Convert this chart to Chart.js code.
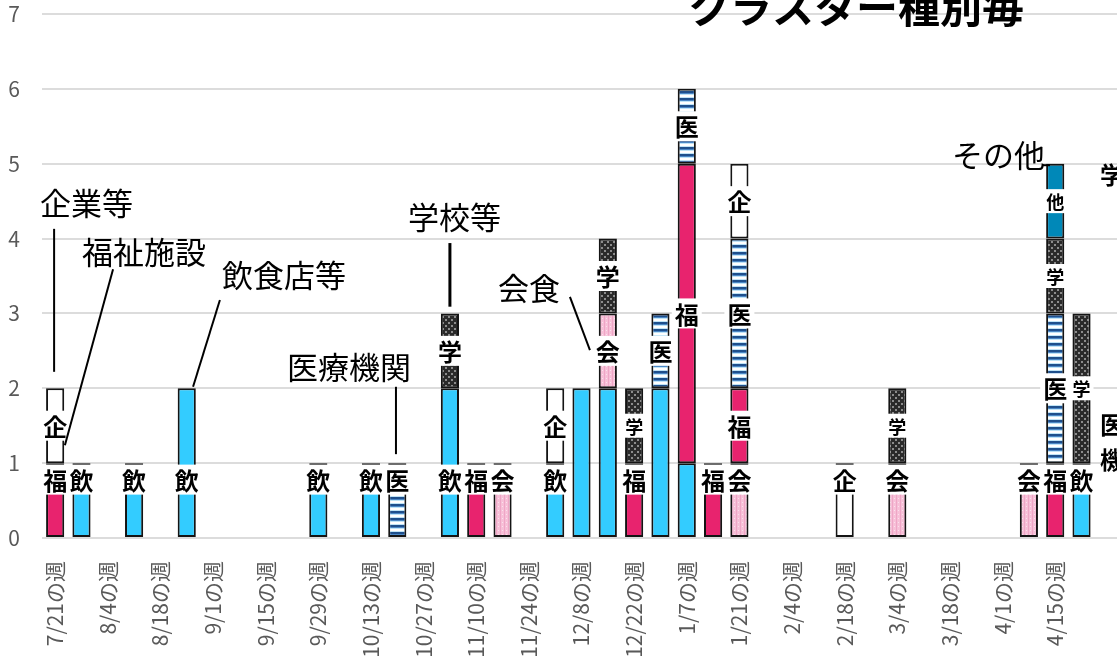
<!DOCTYPE html>
<html lang="ja">
<head>
<meta charset="utf-8">
<script src="https://cdn.jsdelivr.net/npm/chart.js@4.4.1/dist/chart.umd.min.js"></script>
<style>
  html, body { margin: 0; padding: 0; background: #fff; overflow: hidden; }
  #wrap { position: absolute; left: 0; top: 0; width: 1121px; height: 668px; }
</style>
</head>
<body>
<div id="wrap"><canvas id="c"></canvas></div>
<script>
// クラスター種別毎 · 週ごとの積み上げ棒
const FONT = "'Noto Sans CJK JP', 'Noto Sans', sans-serif";
const _ = null;

// 週(ラベルは 1 つおきに表示)
const WEEKS = ['7/21','7/28','8/4','8/11','8/18','8/25','9/1','9/8','9/15','9/22',
  '9/29','10/6','10/13','10/20','10/27','11/3','11/10','11/17','11/24','12/1',
  '12/8','12/15','12/22','12/29','1/7','1/14','1/21','1/28','2/4','2/11',
  '2/18','2/25','3/4','3/11','3/18','3/25','4/1','4/8','4/15','4/22'];

// 種別ごとの件数(積み上げ順:下から)
const INSHOKU  = [_,1,_,1,_,2,_,_,_,_,  1,_,1,_,_,2,_,_,_,1,  2,2,_,2,1,_,_,_,_,_,  _,_,_,_,_,_,_,_,_,1];
const KAISHOKU = [_,_,_,_,_,_,_,_,_,_,  _,_,_,_,_,_,_,1,_,_,  _,1,_,_,_,_,1,_,_,_,  _,_,1,_,_,_,_,1,_,_];
const FUKUSHI  = [1,_,_,_,_,_,_,_,_,_,  _,_,_,_,_,_,1,_,_,_,  _,_,1,_,4,1,1,_,_,_,  _,_,_,_,_,_,_,_,1,_];
const IRYO     = [_,_,_,_,_,_,_,_,_,_,  _,_,_,1,_,_,_,_,_,_,  _,_,_,1,1,_,2,_,_,_,  _,_,_,_,_,_,_,_,2,_];
const KIGYO    = [1,_,_,_,_,_,_,_,_,_,  _,_,_,_,_,_,_,_,_,1,  _,_,_,_,_,_,1,_,_,_,  1,_,_,_,_,_,_,_,_,_];
const GAKKO    = [_,_,_,_,_,_,_,_,_,_,  _,_,_,_,_,1,_,_,_,_,  _,1,1,_,_,_,_,_,_,_,  _,_,1,_,_,_,_,_,1,2];
const SONOTA   = [_,_,_,_,_,_,_,_,_,_,  _,_,_,_,_,_,_,_,_,_,  _,_,_,_,_,_,_,_,_,_,  _,_,_,_,_,_,_,_,1,_];

// 棒の中の1文字ラベル:出さない週 / 小さい字の週
const HIDE_LABEL  = { '飲': ['12/8', '12/15', '12/29', '1/7'] };
const SMALL_LABEL = { '学': ['12/22', '3/4', '4/15', '4/22'], '他': ['4/15'] };

// ── 塗りパターン(Excel の模様っぽく)
function pattern(w, h, draw) {
  const cv = document.createElement('canvas');
  cv.width = w; cv.height = h;
  draw(cv.getContext('2d'));
  return document.getElementById('c').getContext('2d').createPattern(cv, 'repeat');
}
const STRIPE = pattern(4, 7, (g) => {            // 医:青の横縞
  ['#1e4f8c', '#1e4f8c', '#4a86c5', '#bfe3f6', '#ffffff', '#ffffff', '#bfe3f6']
    .forEach((c, i) => { g.fillStyle = c; g.fillRect(0, i, 4, 1); });
});
const CHECK = pattern(6, 6, (g) => {             // 学:黒地に灰の粒
  g.fillStyle = '#2a2a2a'; g.fillRect(0, 0, 6, 6);
  g.fillStyle = '#8c8c8c'; g.fillRect(1, 1, 2, 2); g.fillRect(4, 4, 2, 2);
});
const PINK = pattern(4, 4, (g) => {              // 会:薄ピンクの細縦線
  g.fillStyle = '#f7bfd7'; g.fillRect(0, 0, 4, 4);
  g.fillStyle = '#eea6c6'; g.fillRect(0, 0, 1, 4);
  g.fillStyle = '#fbe1ed'; g.fillRect(2, 2, 1, 1);
});

const bar = (label, short, data, fill) => ({
  label, short, data, backgroundColor: fill,
  borderColor: '#141414', borderWidth: 2, borderSkipped: false,
  categoryPercentage: 1, barPercentage: 0.69,
});

// 棒の中の白抜き1文字ラベル
const segLabels = {
  id: 'segLabels',
  afterDatasetsDraw(chart) {
    const { ctx, scales: { y } } = chart;
    const acc = WEEKS.map(() => 0);
    chart.data.datasets.forEach((ds, di) => {
      const meta = chart.getDatasetMeta(di);
      ds.data.forEach((v, i) => {
        if (!v) return;
        const start = acc[i];
        acc[i] += v;
        if ((HIDE_LABEL[ds.short] || []).includes(WEEKS[i])) return;
        const small = (SMALL_LABEL[ds.short] || []).includes(WEEKS[i]);
        const at = start === 0 ? 0.78 : start + v / 2;   // 一番下の段は少し上寄り
        const px = meta.data[i].x, py = y.getPixelForValue(at);
        ctx.save();
        ctx.font = `bold ${small ? 18 : 24}px ${FONT}`;
        const w = ctx.measureText(ds.short).width, h = small ? 24 : 30;
        ctx.fillStyle = '#fff';
        ctx.fillRect(px - w / 2 - 3, py - h / 2, w + 6, h);
        ctx.fillStyle = '#000';
        ctx.textAlign = 'center'; ctx.textBaseline = 'middle';
        ctx.fillText(ds.short, px, py + 1);
        ctx.restore();
      });
    });
  },
};

// 吹き出し文字と引き出し線(位置は x=週の番号, y=件数 で指定)
const CALLOUTS = [
  { text: 'クラスター種別毎', x: 24.05, y: 7.09, bold: true, size: 42 },
  { text: '企業等',   x: -0.58, y: 4.47, line: [[-0.04, 4.13], [-0.04, 2.22]] },
  { text: '福祉施設', x: 1.02,  y: 3.82, line: [[2.20, 3.59], [0.37, 1.24]] },
  { text: '飲食店等', x: 6.34,  y: 3.51, line: [[6.26, 3.18], [5.24, 2.02]] },
  { text: '医療機関', x: 8.81,  y: 2.28, line: [[12.95, 2.02], [12.95, 1.12]] },
  { text: '学校等',   x: 13.41, y: 4.29, line: [[15.0, 3.94], [15.0, 3.09]], lw: 3 },
  { text: '会食',     x: 16.83, y: 3.34, line: [[19.56, 3.22], [20.32, 2.51]] },
  { text: 'その他',   x: 37.61, y: 5.12, align: 'right', line: [[37.5, 4.98], [37.8, 4.98]] },
  { text: '学校等',   x: 39.7,  y: 4.85, bold: true, size: 24 },
  { text: '医療',     x: 39.7,  y: 1.51, bold: true, size: 24 },
  { text: '機関',     x: 39.7,  y: 1.04, bold: true, size: 24 },
];
const callouts = {
  id: 'callouts',
  afterDraw(chart) {
    const { ctx, scales: { x, y } } = chart;
    ctx.save();
    CALLOUTS.forEach((c) => {
      if (c.line) {
        ctx.strokeStyle = '#000';
        ctx.lineWidth = c.lw || 2;
        ctx.beginPath();
        ctx.moveTo(x.getPixelForValue(c.line[0][0]), y.getPixelForValue(c.line[0][1]));
        ctx.lineTo(x.getPixelForValue(c.line[1][0]), y.getPixelForValue(c.line[1][1]));
        ctx.stroke();
      }
      ctx.font = `${c.bold ? 'bold ' : ''}${c.size || 31}px ${FONT}`;
      ctx.fillStyle = '#000';
      ctx.textAlign = c.align || 'left';
      ctx.textBaseline = 'middle';
      ctx.fillText(c.text, x.getPixelForValue(c.x), y.getPixelForValue(c.y));
    });
    ctx.restore();
  },
};

new Chart(document.getElementById('c'), {
  type: 'bar',
  data: {
    labels: WEEKS.map((w) => w + 'の週').concat(['']),
    datasets: [
      bar('飲食店等', '飲', INSHOKU, '#33ccff'),
      bar('会食', '会', KAISHOKU, PINK),
      bar('福祉施設', '福', FUKUSHI, '#e8236e'),
      bar('医療機関', '医', IRYO, STRIPE),
      bar('企業等', '企', KIGYO, '#ffffff'),
      bar('学校等', '学', GAKKO, CHECK),
      bar('その他', '他', SONOTA, '#0088b8'),
    ],
  },
  options: {
    responsive: true, maintainAspectRatio: false,
    animation: false,
    layout: { padding: { top: 14, left: 0, right: 0, bottom: 0 } },
    plugins: { legend: { display: false }, tooltip: { enabled: false } },
    scales: {
      x: {
        stacked: true,
        grid: { display: false },
        border: { display: false },
        ticks: {
          autoSkip: false, minRotation: 90, maxRotation: 90, padding: 15,
          color: '#595959', font: { family: FONT, size: 21 },
          callback: function (v, i) { return i % 2 === 0 ? this.getLabelForValue(v) : ''; },
        },
        // 軸の高さ固定、ラベルのはみ出しは画面外で切れる
        afterFit: (s) => { s.height = 130; s.paddingLeft = 0; s.paddingRight = 0; },
      },
      y: {
        stacked: true, min: 0, max: 7,
        grid: { color: '#dcdcdc', lineWidth: 2, drawTicks: false },
        border: { display: false },
        ticks: { stepSize: 1, padding: 22, color: '#595959', font: { family: FONT, size: 21 } },
        afterFit: (s) => { s.width = 42; s.paddingTop = 0; s.paddingBottom = 0; },
      },
    },
  },
  plugins: [segLabels, callouts],
});
</script>
</body>
</html>
